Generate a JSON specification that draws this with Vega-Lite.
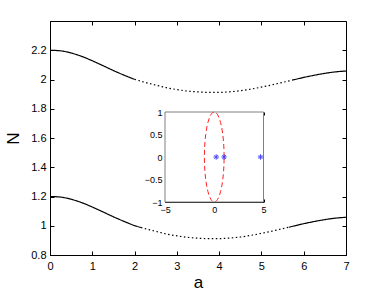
{
  "$schema": "https://vega.github.io/schema/vega-lite/v6.json",
  "width": 296,
  "height": 234,
  "autosize": {"type": "none"},
  "padding": {"left": 50, "top": 21, "right": 36, "bottom": 37},
  "background": "white",
  "config": {
    "view": {"stroke": "black", "strokeWidth": 1},
    "axis": {"grid": false, "domainColor": "black", "tickColor": "black", "labelColor": "black", "titleColor": "black", "labelFont": "Liberation Sans", "titleFont": "Liberation Sans", "labelFlush": false, "labelOverlap": false, "labelBound": false, "zindex": 1, "titleFontWeight": "normal", "format": "~g"}
  },
  "datasets": {
    "upper": [
      {"a": 0, "N": 2.2, "seg": "s1", "style": "solid"},
      {"a": 0.25, "N": 2.196, "seg": "s1", "style": "solid"},
      {"a": 0.5, "N": 2.181, "seg": "s1", "style": "solid"},
      {"a": 0.75, "N": 2.158, "seg": "s1", "style": "solid"},
      {"a": 1.0, "N": 2.128, "seg": "s1", "style": "solid"},
      {"a": 1.25, "N": 2.095, "seg": "s1", "style": "solid"},
      {"a": 1.5, "N": 2.061, "seg": "s1", "style": "solid"},
      {"a": 1.75, "N": 2.03, "seg": "s1", "style": "solid"},
      {"a": 2.0, "N": 2.001, "seg": "s1", "style": "solid"},
      {"a": 2.0, "N": 2.001, "seg": "d", "style": "dotted"},
      {"a": 2.25, "N": 1.98, "seg": "d", "style": "dotted"},
      {"a": 2.5, "N": 1.962, "seg": "d", "style": "dotted"},
      {"a": 2.75, "N": 1.944, "seg": "d", "style": "dotted"},
      {"a": 3.0, "N": 1.931, "seg": "d", "style": "dotted"},
      {"a": 3.25, "N": 1.921, "seg": "d", "style": "dotted"},
      {"a": 3.5, "N": 1.915, "seg": "d", "style": "dotted"},
      {"a": 3.75, "N": 1.912, "seg": "d", "style": "dotted"},
      {"a": 4.0, "N": 1.912, "seg": "d", "style": "dotted"},
      {"a": 4.25, "N": 1.916, "seg": "d", "style": "dotted"},
      {"a": 4.5, "N": 1.923, "seg": "d", "style": "dotted"},
      {"a": 4.75, "N": 1.934, "seg": "d", "style": "dotted"},
      {"a": 5.0, "N": 1.948, "seg": "d", "style": "dotted"},
      {"a": 5.25, "N": 1.963, "seg": "d", "style": "dotted"},
      {"a": 5.5, "N": 1.98, "seg": "d", "style": "dotted"},
      {"a": 5.75, "N": 1.997, "seg": "d", "style": "dotted"},
      {"a": 5.75, "N": 1.997, "seg": "s2", "style": "solid"},
      {"a": 6.0, "N": 2.014, "seg": "s2", "style": "solid"},
      {"a": 6.25, "N": 2.029, "seg": "s2", "style": "solid"},
      {"a": 6.5, "N": 2.042, "seg": "s2", "style": "solid"},
      {"a": 6.75, "N": 2.052, "seg": "s2", "style": "solid"},
      {"a": 7.0, "N": 2.058, "seg": "s2", "style": "solid"}
    ],
    "lower": [
      {"a": 0, "N": 1.2, "seg": "s1", "style": "solid"},
      {"a": 0.25, "N": 1.196, "seg": "s1", "style": "solid"},
      {"a": 0.5, "N": 1.181, "seg": "s1", "style": "solid"},
      {"a": 0.75, "N": 1.158, "seg": "s1", "style": "solid"},
      {"a": 1.0, "N": 1.128, "seg": "s1", "style": "solid"},
      {"a": 1.25, "N": 1.095, "seg": "s1", "style": "solid"},
      {"a": 1.5, "N": 1.061, "seg": "s1", "style": "solid"},
      {"a": 1.75, "N": 1.03, "seg": "s1", "style": "solid"},
      {"a": 2.0, "N": 1.001, "seg": "s1", "style": "solid"},
      {"a": 2.15, "N": 0.988, "seg": "s1", "style": "solid"},
      {"a": 2.15, "N": 0.988, "seg": "d", "style": "dotted"},
      {"a": 2.25, "N": 0.98, "seg": "d", "style": "dotted"},
      {"a": 2.5, "N": 0.962, "seg": "d", "style": "dotted"},
      {"a": 2.75, "N": 0.944, "seg": "d", "style": "dotted"},
      {"a": 3.0, "N": 0.931, "seg": "d", "style": "dotted"},
      {"a": 3.25, "N": 0.921, "seg": "d", "style": "dotted"},
      {"a": 3.5, "N": 0.915, "seg": "d", "style": "dotted"},
      {"a": 3.75, "N": 0.912, "seg": "d", "style": "dotted"},
      {"a": 4.0, "N": 0.912, "seg": "d", "style": "dotted"},
      {"a": 4.25, "N": 0.916, "seg": "d", "style": "dotted"},
      {"a": 4.5, "N": 0.923, "seg": "d", "style": "dotted"},
      {"a": 4.75, "N": 0.934, "seg": "d", "style": "dotted"},
      {"a": 5.0, "N": 0.948, "seg": "d", "style": "dotted"},
      {"a": 5.25, "N": 0.963, "seg": "d", "style": "dotted"},
      {"a": 5.5, "N": 0.98, "seg": "d", "style": "dotted"},
      {"a": 5.65, "N": 0.99, "seg": "d", "style": "dotted"},
      {"a": 5.65, "N": 0.99, "seg": "s2", "style": "solid"},
      {"a": 5.75, "N": 0.997, "seg": "s2", "style": "solid"},
      {"a": 6.0, "N": 1.014, "seg": "s2", "style": "solid"},
      {"a": 6.25, "N": 1.029, "seg": "s2", "style": "solid"},
      {"a": 6.5, "N": 1.042, "seg": "s2", "style": "solid"},
      {"a": 6.75, "N": 1.052, "seg": "s2", "style": "solid"},
      {"a": 7.0, "N": 1.058, "seg": "s2", "style": "solid"}
    ],
    "frame": [{"x1": -5, "x2": 5, "y1": -1, "y2": 1}],
    "circle": [
      {"i": 0, "x": 1, "y": 0}, {"i": 1, "x": 0.985, "y": 0.174}, {"i": 2, "x": 0.94, "y": 0.342},
      {"i": 3, "x": 0.866, "y": 0.5}, {"i": 4, "x": 0.766, "y": 0.643}, {"i": 5, "x": 0.643, "y": 0.766},
      {"i": 6, "x": 0.5, "y": 0.866}, {"i": 7, "x": 0.342, "y": 0.94}, {"i": 8, "x": 0.174, "y": 0.985},
      {"i": 9, "x": 0, "y": 1}, {"i": 10, "x": -0.174, "y": 0.985}, {"i": 11, "x": -0.342, "y": 0.94},
      {"i": 12, "x": -0.5, "y": 0.866}, {"i": 13, "x": -0.643, "y": 0.766}, {"i": 14, "x": -0.766, "y": 0.643},
      {"i": 15, "x": -0.866, "y": 0.5}, {"i": 16, "x": -0.94, "y": 0.342}, {"i": 17, "x": -0.985, "y": 0.174},
      {"i": 18, "x": -1, "y": 0}, {"i": 19, "x": -0.985, "y": -0.174}, {"i": 20, "x": -0.94, "y": -0.342},
      {"i": 21, "x": -0.866, "y": -0.5}, {"i": 22, "x": -0.766, "y": -0.643}, {"i": 23, "x": -0.643, "y": -0.766},
      {"i": 24, "x": -0.5, "y": -0.866}, {"i": 25, "x": -0.342, "y": -0.94}, {"i": 26, "x": -0.174, "y": -0.985},
      {"i": 27, "x": 0, "y": -1}, {"i": 28, "x": 0.174, "y": -0.985}, {"i": 29, "x": 0.342, "y": -0.94},
      {"i": 30, "x": 0.5, "y": -0.866}, {"i": 31, "x": 0.643, "y": -0.766}, {"i": 32, "x": 0.766, "y": -0.643},
      {"i": 33, "x": 0.866, "y": -0.5}, {"i": 34, "x": 0.94, "y": -0.342}, {"i": 35, "x": 0.985, "y": -0.174},
      {"i": 36, "x": 1, "y": 0}
    ],
    "pts": [{"x": 0.2, "y": 0}, {"x": 1.0, "y": 0}, {"x": 4.7, "y": 0}]
  },
  "layer": [
    {
      "data": {"name": "lower"},
      "mark": {"type": "line", "color": "black", "strokeWidth": 1.2, "interpolate": "monotone"},
      "encoding": {
        "x": {"field": "a", "type": "quantitative", "scale": {"domain": [0, 7], "nice": false, "zero": false},
          "axis": {"orient": "bottom", "values": [0, 1, 2, 3, 4, 5, 6, 7], "tickSize": -4, "labelPadding": 9, "labelFontSize": 11, "title": "a", "titleFontSize": 17, "titlePadding": 3, "format": "~g"}},
        "y": {"field": "N", "type": "quantitative", "scale": {"domain": [0.8, 2.4], "nice": false, "zero": false},
          "axis": {"orient": "left", "values": [0.8, 1, 1.2, 1.4, 1.6, 1.8, 2, 2.2], "tickSize": -4, "labelPadding": 8, "labelFontSize": 11, "title": "N", "titleFontSize": 17, "titlePadding": 8, "format": "~g"}},
        "detail": {"field": "seg"},
        "strokeDash": {"field": "style", "type": "nominal", "scale": {"domain": ["solid", "dotted"], "range": [[1, 0], [1.5, 2.5]]}, "legend": null}
      }
    },
    {
      "data": {"name": "upper"},
      "mark": {"type": "line", "color": "black", "strokeWidth": 1.2, "interpolate": "monotone"},
      "encoding": {
        "x": {"field": "a", "type": "quantitative", "scale": {"domain": [0, 7], "nice": false, "zero": false},
          "axis": {"orient": "top", "values": [0, 1, 2, 3, 4, 5, 6, 7], "tickSize": -4, "labels": false, "domain": false, "title": null}},
        "y": {"field": "N", "type": "quantitative", "scale": {"domain": [0.8, 2.4], "nice": false, "zero": false},
          "axis": {"orient": "right", "values": [0.8, 1, 1.2, 1.4, 1.6, 1.8, 2, 2.2], "tickSize": -4, "labels": false, "domain": false, "title": null}},
        "detail": {"field": "seg"},
        "strokeDash": {"field": "style", "type": "nominal", "scale": {"domain": ["solid", "dotted"], "range": [[1, 0], [1.5, 2.5]]}, "legend": null}
      }
    },
    {
      "data": {"name": "frame"},
      "mark": {"type": "rect", "fill": "white", "stroke": "#808080", "strokeWidth": 1},
      "encoding": {
        "x": {"field": "x1", "type": "quantitative", "scale": {"domain": [-5, 5], "range": [115, 213.5], "nice": false, "zero": false},
          "axis": {"orient": "bottom", "offset": -53, "values": [-5, 0, 5], "tickSize": -3, "labelPadding": 6, "labelFontSize": 9, "title": null, "format": "~g"}},
        "x2": {"field": "x2"},
        "y": {"field": "y1", "type": "quantitative", "scale": {"domain": [-1, 1], "range": [181, 91], "nice": false, "zero": false},
          "axis": {"orient": "left", "offset": -115, "values": [-1, -0.5, 0, 0.5, 1], "tickSize": -3, "labelPadding": 6, "labelFontSize": 9, "title": null, "format": "~g"}},
        "y2": {"field": "y2"}
      }
    },
    {
      "data": {"name": "circle"},
      "mark": {"type": "line", "color": "#ff2020", "strokeWidth": 1, "strokeDash": [5, 3], "interpolate": "catmull-rom"},
      "encoding": {
        "x": {"field": "x", "type": "quantitative", "scale": {"domain": [-5, 5], "range": [115, 213.5], "nice": false, "zero": false},
          "axis": {"orient": "top", "offset": -91, "values": [-5, 0, 5], "tickSize": -3, "labels": false, "domain": false, "title": null}},
        "y": {"field": "y", "type": "quantitative", "scale": {"domain": [-1, 1], "range": [181, 91], "nice": false, "zero": false},
          "axis": {"orient": "right", "offset": -82.5, "values": [-1, -0.5, 0, 0.5, 1], "tickSize": -3, "labels": false, "domain": false, "title": null}},
        "order": {"field": "i", "type": "quantitative"}
      }
    },
    {
      "data": {"name": "pts"},
      "mark": {"type": "point", "filled": false, "stroke": "#0000ff", "strokeWidth": 1, "size": 30, "shape": "M-1,0H1M0,-1V1M-0.7,-0.7L0.7,0.7M-0.7,0.7L0.7,-0.7"},
      "encoding": {
        "x": {"field": "x", "type": "quantitative", "scale": {"domain": [-5, 5], "range": [115, 213.5], "nice": false, "zero": false}, "axis": null},
        "y": {"field": "y", "type": "quantitative", "scale": {"domain": [-1, 1], "range": [181, 91], "nice": false, "zero": false}, "axis": null}
      }
    }
  ],
  "resolve": {
    "scale": {"x": "independent", "y": "independent", "strokeDash": "shared"},
    "axis": {"x": "independent", "y": "independent"}
  }
}
